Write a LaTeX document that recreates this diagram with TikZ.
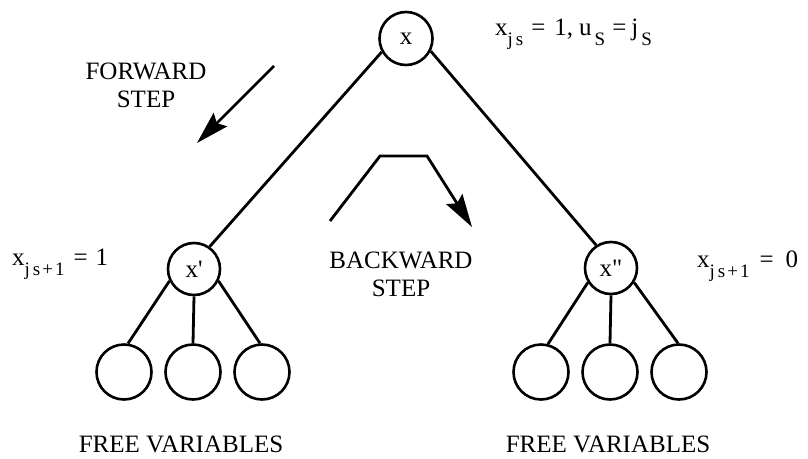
\documentclass[tikz,border=0pt]{standalone}
\usepackage{fontspec}
\setmainfont{Liberation Serif}
\usetikzlibrary{arrows.meta}
\newcommand\sbs[1]{\raisebox{-10.5pt}{\fontsize{19}{19}\selectfont #1}}
\newcommand\gp[1]{\hspace{#1pt}}
\tikzset{
  var/.style={circle, draw, line width=2.6pt, minimum size=#1, inner sep=0pt, font=\fontsize{25}{25}\selectfont},
  var/.default=52pt,
  edge/.style={line width=2.8pt},
  steparrow/.style={line width=2.8pt, -{Stealth[length=33pt,width=19pt,inset=5pt]}},
  lbl/.style={font=\fontsize{25}{28}\selectfont, align=center, inner sep=0pt},
  eqlbl/.style={font=\fontsize{25}{25}\selectfont, inner sep=0pt}
}
\begin{document}
\begin{tikzpicture}[x=1pt,y=-1pt]
\useasboundingbox (0,0) rectangle (808,458);
% main nodes
\node[var=53pt] (root) at (406,38.5) {x};
\node[var] (xp) at (194,269) {x\textquotesingle};
\node[var] (xpp) at (611,268) {x\textquotedbl};
% children
\node[var=55pt] (a1) at (124,372) {};
\node[var=55pt] (a2) at (193,372) {};
\node[var=55pt] (a3) at (262,372) {};
\node[var=55pt] (b1) at (541,372) {};
\node[var=55pt] (b2) at (610,372) {};
\node[var=55pt] (b3) at (679,372) {};
% edges
\draw[edge] (root.209) -- (xp.55);
\draw[edge] (root.333) -- (xpp.123);
\draw[edge] (xp.206) -- (a1.82);
\draw[edge] (xp.south) -- (a2.north);
\draw[edge] (xp.334) -- (a3.94);
\draw[edge] (xpp.212) -- (b1.76);
\draw[edge] (xpp.south) -- (b2.north);
\draw[edge] (xpp.328) -- (b3.92);
% step arrows
\coordinate (f1) at (274,66);
\coordinate (f2) at (197,143);
\draw[steparrow] (f1) -- (f2);
\coordinate (k1) at (330,221);
\coordinate (k2) at (380,156);
\coordinate (k3) at (427,156);
\coordinate (k4) at (472,227);
\draw[steparrow] (k1) -- (k2) -- (k3) -- (k4);
% labels
\node[lbl, anchor=base] (fwd) at (146,107) {FORWARD\\STEP};
\node[lbl, anchor=base] (bwd) at (401,296) {BACKWARD\\STEP};
\node[lbl, anchor=base] (fv1) at (181,452) {FREE VARIABLES};
\node[lbl, anchor=base] (fv2) at (608,452) {FREE VARIABLES};
\node[eqlbl, anchor=base west] (eq0) at (495,35)
  {x\sbs{j\gp{3}s}\gp{8}=\gp{9}1,\gp{6}u\sbs{\gp{3}S}\gp{7}=\gp{5}j\sbs{\gp{3}S}};
\node[eqlbl, anchor=base west] (eq1) at (12,265)
  {x\sbs{j\gp{3}s\gp{2}+\gp{2}1}\gp{9}=\gp{8}1};
\node[eqlbl, anchor=base west] (eq2) at (697,267)
  {x\sbs{j\gp{3}s\gp{2}+\gp{2}1}\gp{10}=\gp{12}0};
\end{tikzpicture}
\end{document}
